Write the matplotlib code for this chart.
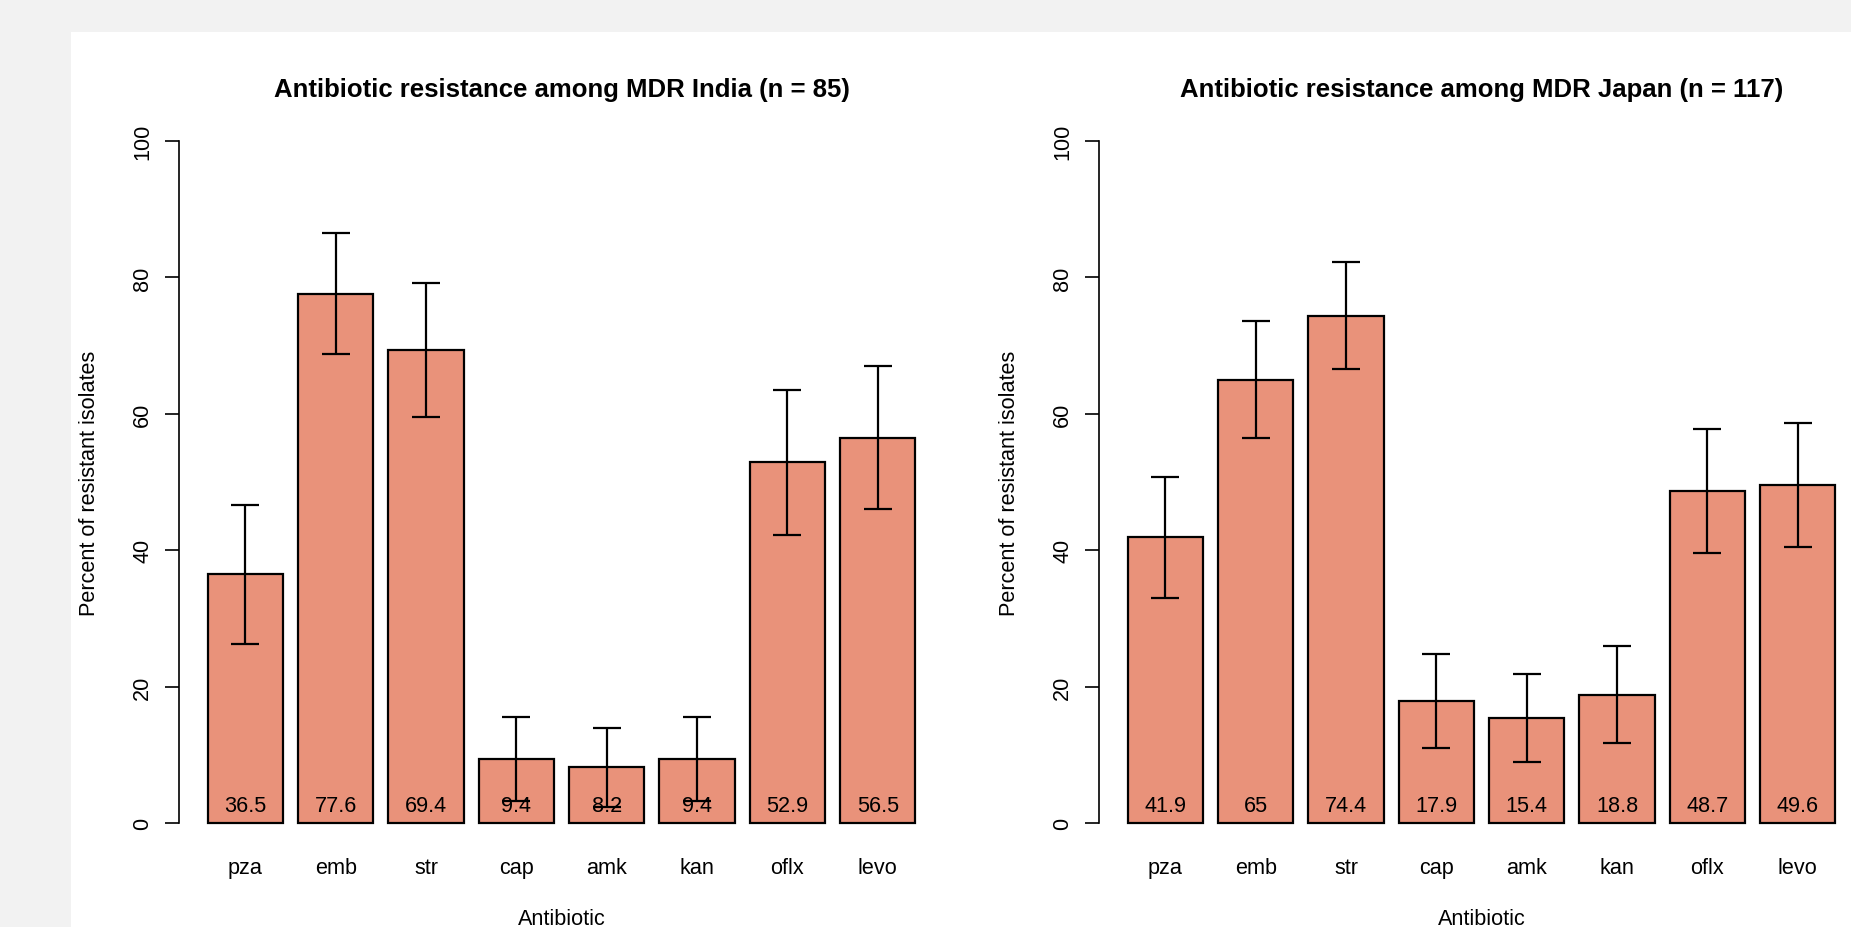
import matplotlib
matplotlib.use("Agg")
import matplotlib.pyplot as plt
from matplotlib.patches import Rectangle
import numpy as np

plt.rcParams['font.family'] = ['Liberation Sans', 'DejaVu Sans']

# data
antibiotics = ['pza', 'emb', 'str', 'cap', 'amk', 'kan', 'oflx', 'levo']

india_pct = [36.5, 77.6, 69.4, 9.4, 8.2, 9.4, 52.9, 56.5]
india_low = [26.3, 68.7, 59.6, 3.2, 2.4, 3.2, 42.3, 46.0]
india_high = [46.7, 86.5, 79.2, 15.6, 14.0, 15.6, 63.5, 67.0]

japan_pct = [41.9, 65, 74.4, 17.9, 15.4, 18.8, 48.7, 49.6]
japan_low = [33.0, 56.4, 66.5, 11.0, 8.9, 11.7, 39.6, 40.5]
japan_high = [50.8, 73.6, 82.3, 24.8, 21.9, 25.9, 57.8, 58.7]

titles = ['Antibiotic resistance among MDR India (n = 85)',
          'Antibiotic resistance among MDR Japan (n = 117)']

W, H = 1851, 928
fig = plt.figure(figsize=(W / 100, H / 100), dpi=100, facecolor='#f2f2f2')
# white page area
fig.patches.append(Rectangle((71 / W, 0), 1, (H - 33) / H, transform=fig.transFigure,
                             facecolor='white', edgecolor='none', zorder=-1))

# R style barplot positions: width 1, space 0.2
x = 0.7 + 1.2 * np.arange(len(antibiotics))

panels = [(179.4, india_pct, india_low, india_high, titles[0]),
          (1099.4, japan_pct, japan_low, japan_high, titles[1])]

ax_w, ax_h = 764.4, 736.6
ax_bottom = 851.3
fs = 15.6

for left, pct, low, high, title in panels:
    ax = fig.add_axes([left / W, (H - ax_bottom) / H, ax_w / W, ax_h / H])
    ax.set_facecolor('none')
    pct = np.array(pct, dtype=float)
    err = [pct - np.array(low), np.array(high) - pct]

    ax.bar(x, pct, width=1, color='#E9927A', edgecolor='black', linewidth=1.6, zorder=2)
    for xi, v in zip(x, pct):
        ax.text(xi, 1.7, f'{v:g}', ha='center', va='baseline', fontsize=fs, zorder=3)
    ax.errorbar(x, pct, yerr=err, fmt='none', ecolor='black', elinewidth=1.6,
                capsize=10.2, capthick=1.6, zorder=4)

    ax.set_xlim(-0.176, 9.976)
    ax.set_ylim(-4, 104)
    for s in ['top', 'right', 'bottom']:
        ax.spines[s].set_visible(False)
    ax.spines['left'].set_bounds(0, 100)
    ax.spines['left'].set_linewidth(1.2)

    ax.set_xticks(x, antibiotics)
    ax.tick_params(axis='x', length=0, pad=5, labelsize=fs)
    ax.set_yticks([0, 20, 40, 60, 80, 100])
    ax.tick_params(axis='y', length=10.1, width=1.2, pad=12.3, labelsize=fs)
    for lab in ax.get_yticklabels():
        lab.set_rotation(90)
        lab.set_rotation_mode('anchor')
        lab.set_ha('center')
        lab.set_va('baseline')

    ax.set_title(title, fontweight='bold', fontsize=18.5, y=1.0244, pad=0, va='baseline')
    ax.set_xlabel('Antibiotic', fontsize=fs)
    ax.xaxis.set_label_coords(0.5, -0.1007)
    ax.xaxis.label.set_va('baseline')
    ax.set_ylabel('Percent of resistant isolates', fontsize=fs)
    ax.yaxis.set_label_coords(-0.1104, 0.5)
    ax.yaxis.label.set_va('baseline')

fig.savefig('out.png', dpi=100, facecolor=fig.get_facecolor())
